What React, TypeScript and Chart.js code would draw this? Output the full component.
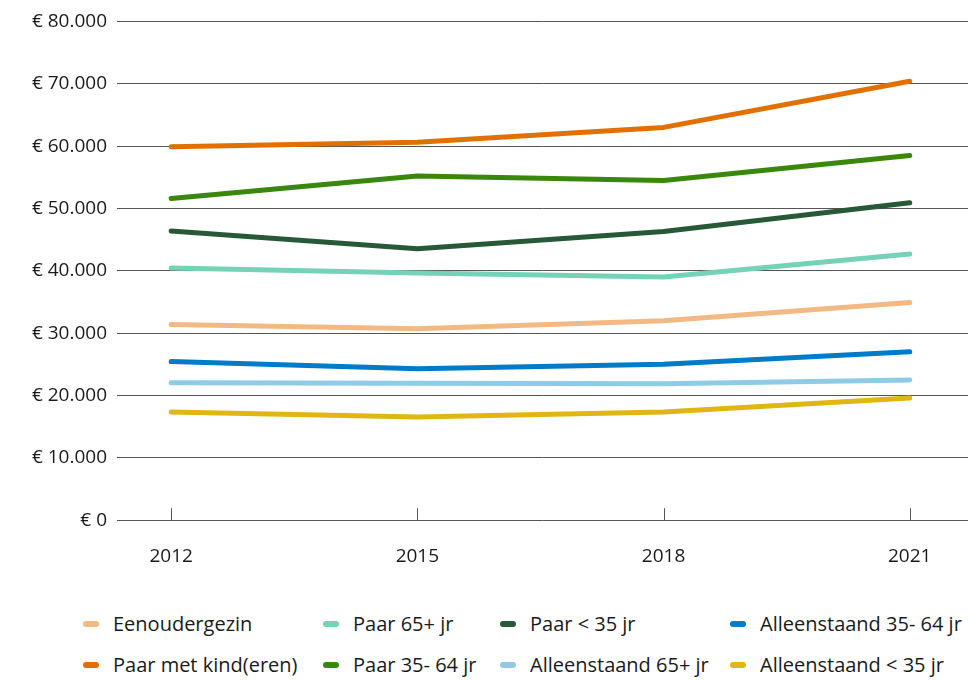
import React, { useEffect, useRef } from "react";
import { Chart, registerables } from "chart.js";

Chart.register(...registerables);

const years = [2012, 2015, 2018, 2021];
const yTicks = [0, 10000, 20000, 30000, 40000, 50000, 60000, 70000, 80000];

const eenoudergezin = [31400, 30700, 32000, 34900];
const paar65plus = [40450, 39650, 39000, 42700];
const paarOnder35 = [46400, 43550, 46300, 50900];
const alleen3564 = [25450, 24300, 25000, 27000];
const paarMetKind = [59900, 60600, 63000, 70400];
const paar3564 = [51600, 55200, 54500, 58500];
const alleen65plus = [22050, 21950, 21900, 22500];
const alleenOnder35 = [17350, 16550, 17350, 19600];

const seriesNames = [
  "Eenoudergezin",
  "Paar 65+ jr",
  "Paar < 35 jr",
  "Alleenstaand 35- 64 jr",
  "Paar met kind(eren)",
  "Paar 35- 64 jr",
  "Alleenstaand 65+ jr",
  "Alleenstaand < 35 jr",
];
const seriesValues = [
  eenoudergezin,
  paar65plus,
  paarOnder35,
  alleen3564,
  paarMetKind,
  paar3564,
  alleen65plus,
  alleenOnder35,
];
const seriesColors = [
  "#F2B984",
  "#76D2B6",
  "#275937",
  "#007BC7",
  "#E17000",
  "#39870C",
  "#8FCAE7",
  "#E0B612",
];

const legendTextX = [113, 353, 530, 760];
const legendRowY = [624, 665];

function fmt(v: number): string {
  const s = Math.round(v).toString();
  return "€ " + s.replace(/\B(?=(\d{3})+(?!\d))/g, ".");
}

const FONT = "'Open Sans', 'Noto Sans', sans-serif";

export default function App() {
  const ref = useRef<HTMLCanvasElement>(null);
  useEffect(() => {
    if (!ref.current) return;
    const tickPlugin = {
      id: "upTicks",
      beforeDatasetsDraw(chart: any) {
        const { ctx, chartArea, scales } = chart;
        ctx.save();
        ctx.strokeStyle = "#555";
        ctx.lineWidth = 1;
        years.forEach((yr) => {
          const x = Math.round(scales.x.getPixelForValue(yr)) + 0.5;
          ctx.beginPath();
          ctx.moveTo(x, chartArea.bottom - 12);
          ctx.lineTo(x, chartArea.bottom);
          ctx.stroke();
        });
        ctx.restore();
      },
    };
    const chart = new Chart(ref.current, {
      type: "line",
      data: {
        datasets: seriesNames.map((name, i) => ({
          label: name,
          data: years.map((yr, j) => ({ x: yr, y: seriesValues[i][j] })),
          borderColor: seriesColors[i],
          backgroundColor: seriesColors[i],
          borderWidth: 5,
          borderCapStyle: "round" as const,
          borderJoinStyle: "round" as const,
          pointRadius: 0,
          tension: 0,
        })),
      },
      options: {
        responsive: false,
        animation: false,
        layout: { padding: { top: 18, right: 0, bottom: 0, left: 0 } },
        plugins: { legend: { display: false }, tooltip: { enabled: false } },
        scales: {
          x: {
            type: "linear",
            min: 2011.34,
            max: 2021.71,
            afterBuildTicks: (axis: any) => {
              axis.ticks = years.map((v) => ({ value: v }));
            },
            grid: { display: false, drawTicks: false },
            border: { display: false },
            ticks: {
              padding: 25,
              color: "#1a1a1a",
              font: { family: FONT, size: 19 },
              callback: (v: any) => String(v),
              maxRotation: 0,
            },
          },
          y: {
            min: 0,
            max: 80000,
            afterBuildTicks: (axis: any) => {
              axis.ticks = yTicks.map((v) => ({ value: v }));
            },
            afterFit: (axis: any) => {
              axis.width = 117;
            },
            grid: { color: "#555", lineWidth: 1, drawTicks: false },
            border: { display: false },
            ticks: {
              padding: 10,
              color: "#1a1a1a",
              font: { family: FONT, size: 19 },
              callback: (v: any) => fmt(Number(v)),
            },
          },
        },
      },
      plugins: [tickPlugin],
    } as any);
    return () => chart.destroy();
  }, []);

  return (
    <div
      style={{
        position: "absolute",
        left: 0,
        top: 0,
        width: 968,
        height: 680,
        background: "#fff",
        fontFamily: FONT,
        overflow: "hidden",
      }}
    >
      <canvas ref={ref} width={968} height={593} style={{ display: "block" }} />
      {seriesNames.map((name, i) => {
        const col = i % 4;
        const row = Math.floor(i / 4);
        const tx = legendTextX[col];
        const cy = legendRowY[row];
        return (
          <React.Fragment key={name}>
            <div
              style={{
                position: "absolute",
                left: tx - 30,
                top: cy - 3,
                width: 16,
                height: 6,
                borderRadius: 3,
                background: seriesColors[i],
              }}
            />
            <div
              style={{
                position: "absolute",
                left: tx,
                top: cy - 15,
                height: 30,
                lineHeight: "30px",
                fontSize: 20,
                color: "#1a1a1a",
                whiteSpace: "nowrap",
              }}
            >
              {name}
            </div>
          </React.Fragment>
        );
      })}
    </div>
  );
}
